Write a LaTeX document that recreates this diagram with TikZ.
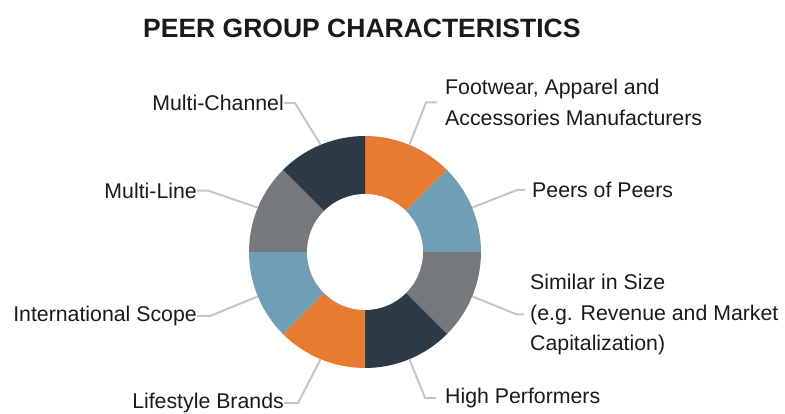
\documentclass[tikz,border=0pt]{standalone}
\usepackage{fontspec}
\setmainfont{Liberation Sans}
\definecolor{pgorange}{HTML}{E97A32}
\definecolor{pgblue}{HTML}{6E9FB4}
\definecolor{pggray}{HTML}{76797B}
\definecolor{pgdark}{HTML}{2B3A44}
\definecolor{leadgray}{HTML}{C6C6C6}
\definecolor{txt}{HTML}{1A1A1A}
\tikzset{
  lbl/.style={font=\fontsize{21.3}{30.7}\selectfont, text=txt, inner sep=0pt, align=left},
  lead/.style={draw=leadgray, line width=2pt}
}
\begin{document}
\begin{tikzpicture}[x=1pt,y=-1pt]
      \useasboundingbox (0,0) rectangle (785,414);
      \node[anchor=base west, inner sep=0pt, text=txt, font=\bfseries\fontsize{26.5}{30}\selectfont] (title) at (143,38) {PEER GROUP CHARACTERISTICS};
      \coordinate (cen) at (365,252);
      \fill[pgorange] (cen) -- ++(90:116pt) arc[start angle=90, end angle=45, radius=116pt] -- cycle;
      \fill[pgblue] (cen) -- ++(45:116pt) arc[start angle=45, end angle=0, radius=116pt] -- cycle;
      \fill[pggray] (cen) -- ++(0:116pt) arc[start angle=0, end angle=-45, radius=116pt] -- cycle;
      \fill[pgdark] (cen) -- ++(-45:116pt) arc[start angle=-45, end angle=-90, radius=116pt] -- cycle;
      \fill[pgorange] (cen) -- ++(-90:116pt) arc[start angle=-90, end angle=-135, radius=116pt] -- cycle;
      \fill[pgblue] (cen) -- ++(-135:116pt) arc[start angle=-135, end angle=-180, radius=116pt] -- cycle;
      \fill[pggray] (cen) -- ++(180:116pt) arc[start angle=180, end angle=135, radius=116pt] -- cycle;
      \fill[pgdark] (cen) -- ++(135:116pt) arc[start angle=135, end angle=90, radius=116pt] -- cycle;
      \fill[white] (cen) circle[radius=58pt];
      \path
        (cen) ++(67.5:116pt) coordinate (e1)
        (cen) ++(22.5:116pt) coordinate (e2)
        (cen) ++(-22.5:116pt) coordinate (e3)
        (cen) ++(-67.5:116pt) coordinate (e4)
        (cen) ++(-112.5:116pt) coordinate (e5)
        (cen) ++(-157.5:116pt) coordinate (e6)
        (cen) ++(157.5:116pt) coordinate (e7)
        (cen) ++(112.5:116pt) coordinate (e8);
      \coordinate (k1) at (426,102);
      \coordinate (k2) at (517,190);
      \coordinate (k3) at (517,313);
      \coordinate (k4) at (425,398);
      \coordinate (k5) at (298,402);
      \coordinate (k6) at (210,314);
      \coordinate (k7) at (208,189);
      \coordinate (k8) at (295,103);
      \node[lbl, anchor=west] (foot) at (445,102.5) {Footwear, Apparel and\\Accessories Manufacturers};
      \node[lbl, anchor=west] (peers) at (532,190) {Peers of Peers};
      \node[lbl, anchor=west] (size) at (530,314.5) {Similar in Size\\(e.g. Revenue and Market\\Capitalization)};
      \node[lbl, anchor=west] (high) at (445,397.8) {High Performers};
      \node[lbl, anchor=east] (life) at (284,403) {Lifestyle Brands};
      \node[lbl, anchor=east] (intl) at (197,316) {International Scope};
      \node[lbl, anchor=east] (mline) at (197,190.6) {Multi-Line};
      \node[lbl, anchor=east] (mchan) at (284,103) {Multi-Channel};
      \begin{scope}[lead]
        \draw[shorten >=8pt] (e1) -- (k1 |- foot.west) -- (foot.west);
        \draw[shorten >=7pt] (e2) -- (k2 |- peers.west) -- (peers.west);
        \draw[shorten >=6pt] (e3) -- (k3 |- size.west) -- (size.west);
        \draw[shorten >=9pt] (e4) -- (k4 |- high.west) -- (high.west);
        \draw (e5) -- (k5 |- life.east) -- (life.east);
        \draw (e6) -- (k6 |- intl.east) -- (intl.east);
        \draw (e7) -- (k7 |- mline.east) -- (mline.east);
        \draw (e8) -- (k8 |- mchan.east) -- (mchan.east);
      \end{scope}
    \end{tikzpicture}
\end{document}
